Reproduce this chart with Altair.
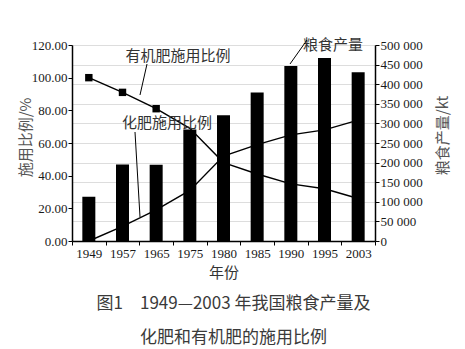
import altair as alt
import pandas as pd

years = ["1949", "1957", "1965", "1975", "1980", "1985", "1990", "1995", "2003"]
grain = [113180, 195050, 194530, 284520, 320560, 379110, 446240, 466620, 430700]
organic = [100, 91, 81, 69, 48, 41, 35, 32, 26]
chemical = [0, 9, 19, 31, 52, 59, 65, 68, 74]
marker_years = ["1949", "1957", "1965"]

bars_df = pd.DataFrame({"year": years, "grain": grain})
org_df = pd.DataFrame({"year": years, "ratio": organic})
chem_df = pd.DataFrame({"year": years, "ratio": chemical})
mark_df = org_df[org_df["year"].isin(marker_years)]
one_df = pd.DataFrame({"k": [0]})

SERIF = "Liberation Serif"
CJK = "Noto Sans CJK SC"
INK = "#1a1a1a"

xenc = alt.X(
    "year:N",
    sort=years,
    scale=alt.Scale(type="band", domain=years, paddingInner=0, paddingOuter=0),
    axis=alt.Axis(
        title="年份",
        tickBand="extent",
        labelAngle=0,
        labelFont=SERIF,
        labelFontSize=13,
        labelColor=INK,
        labelPadding=2,
        tickSize=4,
        tickColor="#000",
        domainColor="#000",
        domainWidth=1.5,
        titleFont=CJK,
        titleFontSize=15,
        titleFontWeight="normal",
        titleColor="#333",
        titlePadding=5,
    ),
)

bars = alt.Chart(bars_df).mark_bar(color="#000", width=13).encode(
    x=xenc,
    y=alt.Y(
        "grain:Q",
        scale=alt.Scale(domain=[0, 500000], nice=False),
        axis=alt.Axis(
            orient="right",
            title="粮食产量/kt",
            values=list(range(0, 500001, 50000)),
            labelExpr="replace(format(datum.value, ','), ',', ' ')",
            labelFont=SERIF,
            labelFontSize=13,
            labelColor=INK,
            labelPadding=1,
            tickSize=4,
            tickColor="#000",
            domainColor="#000",
            domainWidth=1.5,
            titleFont=CJK,
            titleFontSize=15,
            titleFontWeight="normal",
            titleColor="#555",
            titleAngle=270,
            titleX=67,
            titleY=90,
            titleAlign="center",
            titleBaseline="middle",
        ),
    ),
)

yleft = alt.Y(
    "ratio:Q",
    scale=alt.Scale(domain=[0, 120], nice=False),
    axis=alt.Axis(
        orient="left",
        title="施用比例/%",
        values=[0, 20, 40, 60, 80, 100, 120],
        format=".2f",
        labelFont=SERIF,
        labelFontSize=13,
        labelColor=INK,
        labelPadding=1,
        tickSize=4,
        tickColor="#000",
        domainColor="#000",
        domainWidth=1.5,
        titleFont=CJK,
        titleFontSize=15,
        titleFontWeight="normal",
        titleColor="#555",
        titleAngle=270,
        titleX=-47,
        titleY=92,
        titleAlign="center",
        titleBaseline="middle",
    ),
)

org_line = alt.Chart(org_df).mark_line(color="#000", strokeWidth=1.4).encode(x=xenc, y=yleft)
chem_line = alt.Chart(chem_df).mark_line(color="#000", strokeWidth=1.4).encode(x=xenc, y=yleft)
markers = alt.Chart(mark_df).mark_point(shape="square", filled=True, color="#000", size=55, opacity=1).encode(
    x=xenc, y=yleft
)

left_layer = alt.layer(org_line, chem_line, markers)


def label(txt, px, py):
    return alt.Chart(one_df).mark_text(
        text=txt, font=CJK, fontSize=15, color="#333", align="center", baseline="middle"
    ).encode(x=alt.value(px), y=alt.value(py))


def leader(x1, y1, x2, y2):
    return alt.Chart(one_df).mark_rule(color="#000", strokeWidth=1).encode(
        x=alt.value(x1), x2=alt.value(x2), y=alt.value(y1), y2=alt.value(y2)
    )


ann = alt.layer(
    label("有机肥施用比例", 106, 11),
    label("化肥施用比例", 95, 78),
    label("粮食产量", 261, 0),
    leader(75, 19, 68, 50),
    leader(63, 87, 68, 172),
    leader(235, -5, 218, 19),
)

chart = (
    alt.layer(bars, left_layer, ann)
    .resolve_scale(y="independent")
    .properties(
        width=303,
        height=196,
        autosize=alt.AutoSizeParams(type="none"),
        padding={"left": 72, "top": 45, "right": 90, "bottom": 108},
        title=alt.TitleParams(
            text=["图1　1949—2003 年我国粮食产量及", "化肥和有机肥的施用比例"],
            orient="bottom",
            anchor="middle",
            frame="group",
            font=CJK,
            fontSize=17,
            fontWeight="normal",
            color="#3a3a3a",
            lineHeight=34,
            offset=16,
            dx=10,
        ),
    )
    .configure_view(stroke=None)
    .configure(background="white")
)

chart.save("out.html", embed_options={"renderer": "svg", "actions": False})
